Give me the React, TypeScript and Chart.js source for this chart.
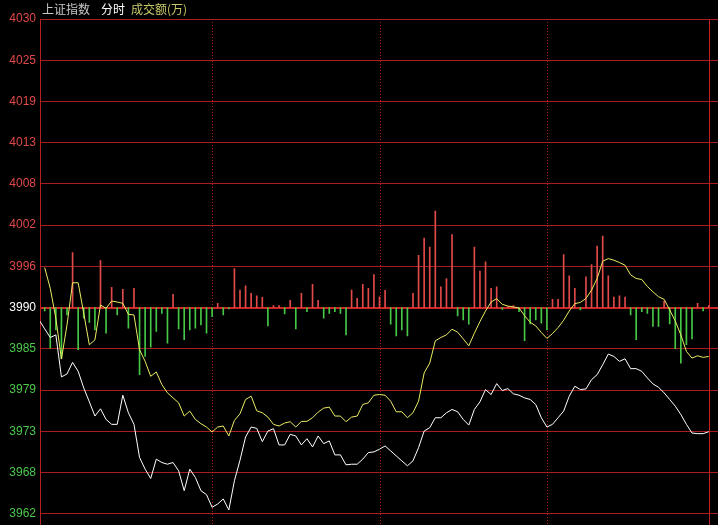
import React, { useEffect, useRef } from 'react';
import { Chart, registerables } from 'chart.js';

Chart.register(...registerables);

// ---- data ----
const baseLevel = 3990;
const yTickLabels = ['4030', '4025', '4019', '4013', '4008', '4002', '3996', '3990', '3985', '3979', '3973', '3968', '3962'];
const yTop = 4029.69;
const yStepSize = 5.67;
const sessionMarks = [30, 60, 90];
const whiteOpen = 3988.3;

const whiteLine = [
  3987.08, 3985.89, 3986.26, 3980.47, 3980.88, 3982.47, 3981.24, 3978.96, 3977.05, 3975.09,
  3976.09, 3974.63, 3973.95, 3973.95, 3977.96, 3975.54, 3973.95, 3969.39, 3967.79, 3966.51,
  3969.16, 3968.70, 3968.47, 3968.70, 3967.56, 3964.83, 3967.79, 3966.65, 3964.83, 3964.28,
  3962.55, 3963.00, 3963.69, 3962.18, 3966.19, 3969.02, 3972.21, 3973.58, 3973.40, 3971.57,
  3973.03, 3973.35, 3971.12, 3971.12, 3972.58, 3972.35, 3971.12, 3971.98, 3970.84, 3972.35,
  3971.30, 3971.67, 3969.75, 3969.75, 3968.38, 3968.47, 3968.47, 3969.16, 3970.07, 3970.16,
  3970.53, 3970.98, 3970.30, 3969.61, 3968.93, 3968.25, 3968.93, 3970.75, 3973.03, 3973.49,
  3974.86, 3974.86, 3975.54, 3976.00, 3975.68, 3974.63, 3973.85, 3976.00, 3977.05, 3978.73,
  3978.05, 3979.55, 3978.60, 3978.87, 3978.14, 3977.96, 3977.59, 3977.37, 3976.68, 3974.86,
  3973.58, 3973.95, 3974.86, 3975.77, 3977.82, 3979.19, 3978.73, 3978.82, 3980.10, 3980.78,
  3982.15, 3983.61, 3983.29, 3982.61, 3982.97, 3981.61, 3981.61, 3981.24, 3980.33, 3979.51,
  3979.05, 3978.28, 3977.37, 3976.45, 3975.31, 3973.95, 3972.76, 3972.67, 3972.67, 3972.94,
];

const yellowLine = [
  3995.51, 3992.64, 3988.54, 3982.93, 3987.62, 3993.42, 3993.42, 3989.22, 3984.89, 3985.57,
  3990.36, 3989.90, 3990.91, 3990.77, 3990.59, 3989.08, 3988.99, 3984.20, 3982.61, 3980.56,
  3981.15, 3979.42, 3978.28, 3977.59, 3976.91, 3975.09, 3975.77, 3974.63, 3974.04, 3973.58,
  3972.90, 3973.58, 3973.72, 3972.35, 3974.49, 3975.40, 3977.37, 3977.82, 3975.81, 3975.54,
  3974.95, 3973.95, 3973.72, 3974.13, 3974.31, 3973.58, 3974.36, 3974.36, 3974.86, 3975.63,
  3976.18, 3976.32, 3975.09, 3975.09, 3974.31, 3974.95, 3975.09, 3976.68, 3976.91, 3977.96,
  3978.05, 3977.96, 3977.14, 3975.68, 3975.68, 3974.86, 3975.54, 3977.14, 3981.01, 3982.38,
  3985.44, 3985.89, 3986.26, 3987.03, 3986.62, 3985.71, 3984.75, 3986.48, 3988.08, 3989.54,
  3990.77, 3991.23, 3990.45, 3990.22, 3990.09, 3989.95, 3988.90, 3987.99, 3987.49, 3986.58,
  3985.76, 3986.44, 3987.26, 3988.26, 3989.54, 3990.54, 3990.72, 3991.27, 3992.41, 3994.01,
  3996.38, 3996.74, 3996.52, 3996.20, 3995.83, 3994.51, 3994.01, 3993.87, 3992.91, 3992.18,
  3991.50, 3991.14, 3989.68, 3988.17, 3986.26, 3983.98, 3983.06, 3983.38, 3983.16, 3983.29,
];

const strengthBars = [
  -0.46, -5.56, -3.06, -7.02, -1.00, 7.57, -5.79, -1.46, -2.05, -3.06,
  6.47, -3.51, 2.78, -1.00, 2.51, -2.83, 2.64, -9.21, -6.70, -5.43,
  -3.28, -0.78, -4.88, 1.82, -2.92, -4.42, -3.06, -2.83, -2.37, -3.51,
  -1.23, 0.59, -1.00, -0.18, 5.38, 2.42, 3.01, 1.96, 1.64, 1.41,
  -2.51, 0.27, 0.27, -0.87, 1.00, -2.92, 1.96, -0.55, 3.19, 1.00,
  -1.46, -0.78, -0.55, -0.78, -3.74, 2.42, 1.28, 3.19, 2.64, 4.56,
  1.50, 2.37, -2.28, -3.88, -3.06, -3.88, 1.96, 7.20, 9.58, 8.34,
  13.27, 2.87, 4.01, 10.03, -1.14, -1.69, -2.28, 8.34, 5.02, 6.29,
  2.64, 2.87, -0.23, 0.14, 0.27, -0.55, -4.56, -2.23, -1.69, -2.14,
  -3.06, 1.14, 1.14, 7.30, 4.38, 2.64, -0.32, 4.24, 5.93, 8.48,
  9.85, 4.38, 1.46, 1.64, 1.46, -1.00, -4.42, -0.55, -0.78, -2.60,
  -2.60, 0.91, -2.23, -5.65, -7.62, -5.11, -4.29, 0.59, -0.46, 0.27,
];

const RED_BAR = '#e24a4a';
const GREEN_BAR = '#46c846';
const GRID_RED = '#a81e1e';

export default function App() {
  const ref = useRef<HTMLCanvasElement>(null);

  useEffect(() => {
    if (!ref.current) return;
    const yMin = yTop - yStepSize * (yTickLabels.length - 1);
    const baseIdx = yTickLabels.indexOf(String(baseLevel));
    const lastIdx = whiteLine.length - 1;

    const guides = {
      id: 'guides',
      beforeDatasetsDraw(chart: any) {
        const { ctx, chartArea: a, scales } = chart;
        const x = scales.x;
        ctx.save();
        ctx.lineWidth = 1;
        // left border
        ctx.strokeStyle = '#b82020';
        ctx.beginPath();
        ctx.moveTo(a.left + 0.5, a.top);
        ctx.lineTo(a.left + 0.5, chart.height);
        ctx.stroke();
        // session separators (dotted)
        ctx.strokeStyle = '#b01c1c';
        ctx.setLineDash([1, 2]);
        for (const m of sessionMarks) {
          const px = Math.round(x.getPixelForValue(m)) + 0.5;
          ctx.beginPath();
          ctx.moveTo(px, a.top);
          ctx.lineTo(px, chart.height);
          ctx.stroke();
        }
        ctx.setLineDash([]);
        // current time marker
        ctx.strokeStyle = '#c02020';
        const lx = Math.round(x.getPixelForValue(lastIdx)) + 0.5;
        ctx.beginPath();
        ctx.moveTo(lx, a.top);
        ctx.lineTo(lx, chart.height);
        ctx.stroke();
        ctx.restore();
      },
    };

    const chart = new Chart(ref.current, {
      type: 'line',
      data: {
        datasets: [
          {
            type: 'line',
            data: [{ x: -1, y: whiteOpen }, ...whiteLine.map((v, i) => ({ x: i, y: v }))],
            borderColor: '#ffffff',
            borderWidth: 1,
            pointRadius: 0,
            tension: 0,
            order: 0,
          },
          {
            type: 'line',
            data: yellowLine.map((v, i) => ({ x: i, y: v })),
            borderColor: '#ecec64',
            borderWidth: 1,
            pointRadius: 0,
            tension: 0,
            order: 1,
          },
          {
            type: 'bar',
            data: strengthBars.map((d, i) => ({ x: i, y: [baseLevel, baseLevel + d] })),
            backgroundColor: strengthBars.map((d) => (d >= 0 ? RED_BAR : GREEN_BAR)),
            borderWidth: 0,
            barThickness: 1,
            order: 2,
          } as any,
        ],
      },
      options: {
        animation: false,
        responsive: false,
        devicePixelRatio: 1,
        layout: { padding: { top: 19, bottom: 8, left: 0, right: 0 } },
        plugins: {
          legend: { display: false },
          tooltip: { enabled: false },
        },
        scales: {
          x: {
            type: 'linear',
            display: false,
            offset: false,
            grid: { offset: false },
            min: -0.84,
            max: 120.66,
          },
          y: {
            type: 'linear',
            min: yMin,
            max: yTop,
            afterFit: (s: any) => {
              s.width = 40;
            },
            afterBuildTicks: (s: any) => {
              s.ticks = yTickLabels.map((_, k) => ({ value: yTop - k * yStepSize }));
            },
            ticks: {
              callback: (_v: any, i: number) => yTickLabels[i],
              color: (c: any) => (c.index < baseIdx ? '#e04848' : c.index === baseIdx ? '#ffffff' : '#4cc84c'),
              font: { family: '"Liberation Sans", Arial, sans-serif', size: 12 },
              padding: 4,
            },
            grid: {
              color: (c: any) => (c.index === baseIdx ? '#cc2626' : GRID_RED),
              lineWidth: (c: any) => (c.index === baseIdx ? 2 : 1),
              drawTicks: false,
            },
            border: { display: false },
          },
        },
      },
      plugins: [guides],
    } as any);

    return () => chart.destroy();
  }, []);

  return (
    <div style={{ position: 'fixed', left: 0, top: 0, width: 718, height: 525, background: '#000', overflow: 'hidden' }}>
      <canvas ref={ref} width={718} height={525} style={{ display: 'block' }} />
      <div
        style={{
          position: 'absolute',
          left: 42,
          top: 2,
          font: '12px "Noto Sans CJK SC", sans-serif',
          lineHeight: '14px',
          whiteSpace: 'pre',
        }}
      >
        <span style={{ color: '#c8c8c8' }}>上证指数</span>
        <span style={{ color: '#ffffff', marginLeft: 11 }}>分时</span>
        <span style={{ color: '#c8c86a', marginLeft: 6 }}>成交额(万)</span>
      </div>
    </div>
  );
}
